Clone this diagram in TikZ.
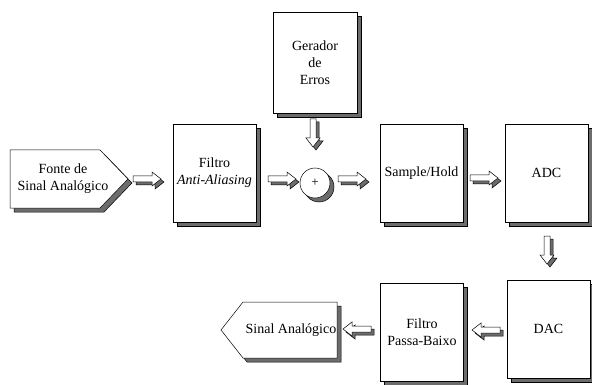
\documentclass[tikz,border=0pt]{standalone}
\usepackage{fontspec}
\setmainfont{Liberation Serif}
\usetikzlibrary{shadows}
\definecolor{shgray}{RGB}{108,108,108}
\newcommand\barrow[2]{%
  \filldraw[fill=shgray,shift={#1},xshift=3pt,yshift=-3pt,rotate=#2]
    (-14,-3) -- (5,-3) -- (5,-7) -- (14,0) -- (5,7) -- (5,3) -- (-14,3) -- cycle;
  \filldraw[fill=white,shift={#1},rotate=#2]
    (-14,-3) -- (5,-3) -- (5,-7) -- (14,0) -- (5,7) -- (5,3) -- (-14,3) -- cycle;}
\begin{document}
\begin{tikzpicture}[x=1pt,y=-1pt,line width=0.5pt,
  txt/.style={font=\fontsize{14}{17}\selectfont, align=center, inner sep=0pt},
  shadowed/.style={general shadow={fill=shgray, draw=black, shadow xshift=4pt, shadow yshift=-4pt}},
  box/.style={txt, draw, fill=white, shadowed, minimum width=83pt, minimum height=98pt}]
\useasboundingbox (0,0) rectangle (592,385);
% source pentagon
\filldraw[fill=shgray,xshift=4pt,yshift=-4pt] (10,150) -- (100,150) -- (128,179) -- (100,208) -- (10,208) -- cycle;
\filldraw[fill=white] (10,150) -- (100,150) -- (128,179) -- (100,208) -- (10,208) -- cycle;
\node[txt] (fonte) at (63,179) {Fonte de\\Sinal Analógico};
% blocks
\node[box] (filtro) at (214.5,173) {Filtro\\\textit{Anti-Aliasing}};
\node[box, minimum width=84pt, minimum height=101pt] (gerador) at (315,62.5) {Gerador\\de\\Erros};
\node[box] (sh) at (421.5,173) {Sample/Hold};
\node[box] (adc) at (546.5,173) {ADC};
\node[box] (dac) at (548.5,329) {DAC};
\node[box] (fpb) at (422,332.5) {Filtro\\Passa-Baixo};
\node[circle, draw, fill=white, shadowed, minimum size=30pt, inner sep=0pt, font=\fontsize{13}{14}\selectfont] (sum) at (315,183) {+};
% output pentagon
\filldraw[fill=shgray,xshift=4pt,yshift=-4pt] (221,330) -- (243,302) -- (337,302) -- (337,358) -- (243,358) -- cycle;
\filldraw[fill=white] (221,330) -- (243,302) -- (337,302) -- (337,358) -- (243,358) -- cycle;
\node[txt] (sinal) at (291,330) {Sinal Analógico};
% block arrows
\coordinate (a1) at (147,179);
\coordinate (a2) at (282,179);
\coordinate (a3) at (352,179);
\coordinate (a4) at (484,178);
\coordinate (a5) at (313,133);
\coordinate (a6) at (547,250);
\coordinate (a7) at (486,330);
\coordinate (a8) at (357,329);
\barrow{(a1)}{0}
\barrow{(a2)}{0}
\barrow{(a3)}{0}
\barrow{(a4)}{0}
\barrow{(a5)}{-90}
\barrow{(a6)}{-90}
\barrow{(a7)}{180}
\barrow{(a8)}{180}
\end{tikzpicture}
\end{document}
